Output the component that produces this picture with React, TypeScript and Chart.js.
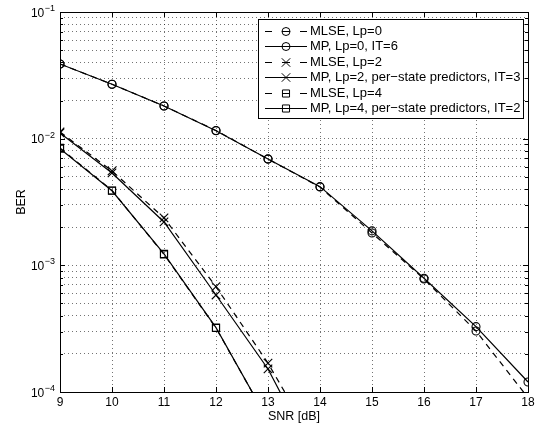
import React, { useEffect, useRef } from "react";
import { Chart, registerables } from "chart.js";

Chart.register(...registerables);

// ---- data ----
const snrAll = [9, 10, 11, 12, 13, 14, 15, 16, 17, 18];
const snrLp2 = [9, 10, 11, 12, 13, 14];
const snrLp4 = [9, 10, 11, 12, 13];

const mlseLp0 = [0.0389, 0.0269, 0.0181, 0.0116, 0.0069, 0.00415, 0.0018, 0.00078, 0.000303, 0.00009];
const mpLp0 = [0.0389, 0.0269, 0.0181, 0.01156, 0.00692, 0.00418, 0.00187, 0.00079, 0.000328, 0.00012];
const mlseLp2 = [0.0113, 0.00556, 0.00237, 0.000678, 0.000169, 0.000033];
const mpLp2 = [0.0111, 0.00536, 0.0022, 0.000583, 0.000152, 0.000025];
const mlseLp4 = [0.00845, 0.0039, 0.00122, 0.00032, 0.00006];
const mpLp4 = [0.00834, 0.00388, 0.00123, 0.000322, 0.00006];

const seriesLabels = [
  "MLSE, Lp=0",
  "MP, Lp=0, IT=6",
  "MLSE, Lp=2",
  "MP, Lp=2, per\u2212state predictors, IT=3",
  "MLSE, Lp=4",
  "MP, Lp=4, per\u2212state predictors, IT=2",
];

const xTicks = [9, 10, 11, 12, 13, 14, 15, 16, 17, 18];
const yDecades = [1e-4, 1e-3, 1e-2, 1e-1];
const yExponents = ["\u22124", "\u22123", "\u22122", "\u22121"];
const yMultipliers = [1, 2, 3, 4, 5, 6, 7, 8, 9];

const yTickValues: number[] = [];
yDecades.forEach((d, i) => {
  if (i === yDecades.length - 1) {
    yTickValues.push(d);
  } else {
    yMultipliers.forEach((m) => yTickValues.push(Number((d * m).toPrecision(3))));
  }
});

const FONT = "'Liberation Sans', Arial, Helvetica, sans-serif";

const toPts = (xs: number[], ys: number[]) => xs.map((x, i) => ({ x, y: ys[i] }));

const boxPlugin = {
  id: "boxTicks",
  afterDatasetsDraw(chart: any) {
    const { ctx, chartArea: a, scales } = chart;
    ctx.save();
    ctx.strokeStyle = "#000";
    ctx.lineWidth = 1;
    ctx.setLineDash([]);
    ctx.beginPath();
    xTicks.forEach((v) => {
      const px = Math.round(scales.x.getPixelForValue(v)) + 0.5;
      ctx.moveTo(px, a.bottom);
      ctx.lineTo(px, a.bottom - 5);
      ctx.moveTo(px, a.top);
      ctx.lineTo(px, a.top + 5);
    });
    yTickValues.forEach((v) => {
      const py = Math.round(scales.y.getPixelForValue(v)) + 0.5;
      const major = yDecades.some((d) => Math.abs(d - v) / d < 1e-6);
      const len = major ? 5 : 3;
      ctx.moveTo(a.left, py);
      ctx.lineTo(a.left + len, py);
      ctx.moveTo(a.right, py);
      ctx.lineTo(a.right - len, py);
    });
    ctx.stroke();
    ctx.strokeRect(Math.round(a.left) + 0.5, Math.round(a.top) + 0.5, Math.round(a.right - a.left), Math.round(a.bottom - a.top));

    // y tick labels: 10 with raised exponent
    ctx.fillStyle = "#000";
    ctx.textAlign = "right";
    yDecades.forEach((d, i) => {
      const py = scales.y.getPixelForValue(d);
      const xr = a.left - 5;
      ctx.font = `9px ${FONT}`;
      const ew = ctx.measureText(yExponents[i]).width;
      ctx.textBaseline = "alphabetic";
      ctx.fillText(yExponents[i], xr, py - 1);
      ctx.font = `12px ${FONT}`;
      ctx.textBaseline = "middle";
      ctx.fillText("10", xr - ew - 0.5, py + 1.5);
    });
    ctx.restore();
  },
};

const drawMarker = (ctx: CanvasRenderingContext2D, style: string, x: number, y: number, r: number) => {
  ctx.beginPath();
  if (style === "circle") {
    ctx.arc(x, y, r, 0, Math.PI * 2);
  } else if (style === "rect") {
    const s = Math.SQRT1_2 * r;
    ctx.rect(x - s, y - s, 2 * s, 2 * s);
  } else if (style === "crossRot") {
    const o = Math.SQRT1_2 * r;
    ctx.moveTo(x - o, y - o);
    ctx.lineTo(x + o, y + o);
    ctx.moveTo(x - o, y + o);
    ctx.lineTo(x + o, y - o);
  }
  ctx.stroke();
};

const legendPlugin = {
  id: "matlabLegend",
  afterDraw(chart: any) {
    const { ctx, chartArea: a } = chart;
    const ds = chart.data.datasets;
    ctx.save();
    ctx.font = `13px ${FONT}`;
    let maxW = 0;
    ds.forEach((d: any) => {
      maxW = Math.max(maxW, ctx.measureText(d.label).width);
    });
    const right = Math.round(a.right - 5);
    const top = Math.round(a.top + 7);
    const left = Math.round(right - maxW - 55);
    const rowH = 15.5;
    const height = Math.round(ds.length * rowH + 6);
    ctx.fillStyle = "#fff";
    ctx.fillRect(left, top, right - left, height);
    ctx.strokeStyle = "#000";
    ctx.lineWidth = 1;
    ctx.strokeRect(left + 0.5, top + 0.5, right - left, height);
    ds.forEach((d: any, i: number) => {
      const cy = Math.round(top + 11.5 + i * rowH) + 0.5;
      const lx0 = left + 7;
      const lx1 = left + 49;
      ctx.strokeStyle = "#000";
      ctx.lineWidth = 1.2;
      ctx.setLineDash(d.borderDash && d.borderDash.length ? [7, 10, 8, 10, 7] : []);
      ctx.beginPath();
      ctx.moveTo(lx0, cy);
      ctx.lineTo(lx1, cy);
      ctx.stroke();
      ctx.setLineDash([]);
      ctx.lineWidth = 1;
      drawMarker(ctx, d.pointStyle, (lx0 + lx1) / 2, cy, d.pointRadius);
      ctx.fillStyle = "#000";
      ctx.textBaseline = "middle";
      ctx.textAlign = "left";
      ctx.fillText(d.label, left + 52, cy);
    });
    ctx.restore();
  },
};

export default function App() {
  const ref = useRef<HTMLCanvasElement | null>(null);

  useEffect(() => {
    if (!ref.current) return;
    const mk = (label: string, xs: number[], ys: number[], dashed: boolean, style: string, r: number) => ({
      label,
      data: toPts(xs, ys),
      borderColor: "#000",
      borderWidth: 1.2,
      borderDash: dashed ? [6, 5] : [],
      pointStyle: style,
      pointRadius: r,
      pointBorderColor: "#000",
      pointBackgroundColor: "rgba(0,0,0,0)",
      pointBorderWidth: 1.1,
      fill: false,
      tension: 0,
    });

    const chart = new Chart(ref.current, {
      type: "line",
      data: {
        datasets: [
          mk(seriesLabels[0], snrAll, mlseLp0, true, "circle", 4),
          mk(seriesLabels[1], snrAll, mpLp0, false, "circle", 4),
          mk(seriesLabels[2], snrLp2, mlseLp2, true, "crossRot", 6),
          mk(seriesLabels[3], snrLp2, mpLp2, false, "crossRot", 6),
          mk(seriesLabels[4], snrLp4, mlseLp4, true, "rect", 5),
          mk(seriesLabels[5], snrLp4, mpLp4, false, "rect", 5),
        ] as any,
      },
      options: {
        animation: false,
        responsive: false,
        maintainAspectRatio: false,
        layout: { padding: { top: 12, right: 14, left: 0, bottom: 0 } },
        plugins: { legend: { display: false }, tooltip: { enabled: false } },
        scales: {
          x: {
            type: "linear",
            min: 9,
            max: 18,
            afterBuildTicks: (s: any) => {
              s.ticks = xTicks.map((v) => ({ value: v }));
            },
            afterFit: (s: any) => {
              s.height = 33;
            },
            ticks: {
              color: "#000",
              font: { family: FONT, size: 12 },
              padding: 3,
              maxRotation: 0,
              autoSkip: false,
            },
            grid: { color: "rgba(0,0,0,0.55)", lineWidth: 1, drawTicks: false },
            border: { display: false, dash: [1, 3] },
            title: {
              display: true,
              text: "SNR [dB]",
              color: "#000",
              font: { family: FONT, size: 12.5 },
              padding: { top: 0, bottom: 1 },
            },
          },
          y: {
            type: "logarithmic",
            min: 1e-4,
            max: 1e-1,
            afterBuildTicks: (s: any) => {
              s.ticks = yTickValues.map((v) => ({ value: v }));
            },
            afterFit: (s: any) => {
              s.width = 60;
            },
            ticks: { display: false, autoSkip: false },
            grid: { color: "rgba(0,0,0,0.55)", lineWidth: 1, drawTicks: false },
            border: { display: false, dash: [1, 3] },
            title: {
              display: true,
              text: "BER",
              color: "#000",
              font: { family: FONT, size: 12.5 },
              padding: { top: 14, bottom: 0 },
            },
          },
        },
      } as any,
      plugins: [boxPlugin, legendPlugin],
    });
    return () => chart.destroy();
  }, []);

  return (
    <div style={{ position: "absolute", left: 0, top: 0, width: 542, height: 425, background: "#fff" }}>
      <canvas ref={ref} width={542} height={425} />
    </div>
  );
}
